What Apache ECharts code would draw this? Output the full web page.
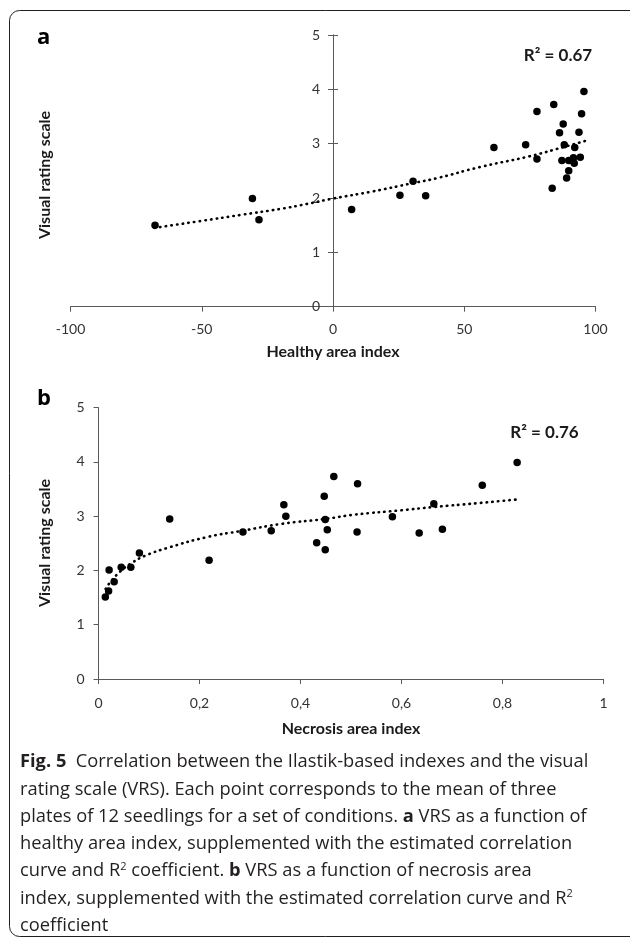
<!DOCTYPE html>
<html><head><meta charset="utf-8">
<script src="https://cdn.jsdelivr.net/npm/echarts@6/dist/echarts.min.js"></script>
<style>html,body{margin:0;padding:0;background:#fff}#c{width:630px;height:940px}</style>
</head><body><div id="c"></div>
<script>
// Panel a: healthy area index vs visual rating scale
const healthyX = [95.6, 84.1, 77.7, 94.7, 87.7, 86.3, 93.7, 61.3, 73.4, 88.1, 92.1, 77.7, 87.2, 89.8, 91.6, 94.2, 91.9, 89.8, 89.0, 83.5, 30.5, 25.5, 35.3, 7.1, -67.8, -30.7, -28.2];
const healthyY = [3.96, 3.72, 3.59, 3.55, 3.36, 3.20, 3.21, 2.93, 2.98, 2.98, 2.93, 2.72, 2.69, 2.69, 2.74, 2.75, 2.64, 2.50, 2.37, 2.18, 2.31, 2.05, 2.04, 1.79, 1.50, 1.99, 1.60];
const trendAX = [-68, -50, -35, -20, -10, 0, 15, 30, 40, 56, 75, 88, 96];
const trendAY = [1.45, 1.58, 1.69, 1.80, 1.89, 1.99, 2.12, 2.27, 2.37, 2.57, 2.77, 2.94, 3.05];
// Panel b: necrosis area index vs visual rating scale
const necrosisX = [0.0135, 0.020, 0.021, 0.031, 0.045, 0.064, 0.081, 0.141, 0.219, 0.286, 0.342, 0.367, 0.371, 0.432, 0.447, 0.449, 0.453, 0.449, 0.466, 0.513, 0.512, 0.582, 0.635, 0.664, 0.681, 0.760, 0.829];
const necrosisY = [1.51, 1.62, 2.01, 1.79, 2.06, 2.06, 2.32, 2.95, 2.19, 2.71, 2.73, 3.21, 3.00, 2.51, 3.37, 2.94, 2.75, 2.38, 3.73, 3.60, 2.71, 2.99, 2.69, 3.23, 2.76, 3.57, 3.99];
const trendBX = [0.014, 0.023, 0.043, 0.066, 0.092, 0.138, 0.217, 0.284, 0.363, 0.449, 0.508, 0.6, 0.664, 0.75, 0.83];
const trendBY = [1.66, 1.78, 1.98, 2.14, 2.27, 2.42, 2.62, 2.73, 2.86, 2.95, 3.03, 3.11, 3.17, 3.24, 3.31];
// Axis ranges / labels
const yRange = [0, 5, 1];
const xRangeA = [-100, 100, 50];
const xRangeB = [0, 1, 0.2];
const panelLabels = ['a', 'b'];
const r2Labels = ['R² = 0.67', 'R² = 0.76'];
const xTitles = ['Healthy area index', 'Necrosis area index'];
const yTitle = 'Visual rating scale';
const captionLines = [
  '{b|Fig. 5}  Correlation between the Ilastik-based indexes and the visual',
  'rating scale (VRS). Each point corresponds to the mean of three',
  'plates of 12 seedlings for a set of conditions. {b|a} VRS as a function of',
  'healthy area index, supplemented with the estimated correlation',
  'curve and R{s|2} coefficient. {b|b} VRS as a function of necrosis area',
  'index, supplemented with the estimated correlation curve and R{s|2}',
  'coefficient'
];

const zip = (a, b) => a.map((v, i) => [v, b[i]]);
const chart = echarts.init(document.getElementById('c'), null, {renderer: 'canvas'});
const AX = '#595959', TX = '#333333', FONT = 'Lato';
const lbl = {color: TX, fontFamily: FONT, fontSize: 14};
const nameStyle = {color: '#1a1a1a', fontFamily: FONT, fontSize: 16, fontWeight: 'bold'};
const dotted = {color: '#000', width: 2.6, type: [0.5, 5.2], cap: 'round'};
const CF = 18.3;
const gridA = {left: 70.5, top: 35, width: 525, height: 271.7};
// place panel a's vertical axis where x = 0 on the horizontal axis
const zeroFrac = (0 - xRangeA[0]) / (xRangeA[1] - xRangeA[0]);
const yAxisShiftL = -gridA.width * zeroFrac;
const yAxisShiftR = -gridA.width * (1 - zeroFrac);

const captionGraphics = captionLines.map((t, i) => ({
  type: 'text', x: 20, y: 762 + i * 27.3, silent: true,
  style: {
    text: t, fill: '#231f20', font: CF + 'px "Open Sans"', verticalAlign: 'middle',
    rich: {
      b: {fontWeight: 'bold', fontFamily: 'Open Sans', fontSize: CF, fill: '#231f20'},
      s: {fontFamily: 'Open Sans', fontSize: 11, fill: '#231f20', padding: [0, 0, 9, 0]}
    }
  }
}));

const yBase = {type: 'value', min: yRange[0], max: yRange[1], interval: yRange[2], splitLine: {show: false}};

chart.setOption({
  animation: false,
  grid: [
    gridA,
    {left: 98.5, top: 407.7, width: 505, height: 271.3}
  ],
  xAxis: [
    {gridIndex: 0, type: 'value', min: xRangeA[0], max: xRangeA[1], interval: xRangeA[2],
     splitLine: {show: false}, axisLine: {onZero: false, lineStyle: {color: AX}},
     axisTick: {show: true, length: 5, lineStyle: {color: AX}},
     axisLabel: {...lbl, margin: 16},
     name: xTitles[0], nameLocation: 'middle', nameGap: 37, nameTextStyle: nameStyle},
    {gridIndex: 1, type: 'value', min: xRangeB[0], max: xRangeB[1], interval: xRangeB[2],
     splitLine: {show: false}, axisLine: {onZero: false, lineStyle: {color: AX}},
     axisTick: {show: true, length: 5, lineStyle: {color: AX}},
     axisLabel: {...lbl, margin: 17, formatter: v => String(+v.toFixed(1)).replace('.', ',')},
     name: xTitles[1], nameLocation: 'middle', nameGap: 42, nameTextStyle: nameStyle}
  ],
  yAxis: [
    {...yBase, gridIndex: 0, position: 'left', offset: yAxisShiftL,
     axisLine: {show: true, onZero: false, lineStyle: {color: AX}},
     axisTick: {show: true, length: 5, lineStyle: {color: AX}},
     axisLabel: {...lbl, margin: 13}},
    {...yBase, gridIndex: 0, position: 'right', offset: yAxisShiftR,
     axisLine: {show: true, onZero: false, lineStyle: {color: AX}},
     axisTick: {show: true, length: 5, lineStyle: {color: AX}},
     axisLabel: {show: false}},
    {...yBase, gridIndex: 1,
     axisLine: {show: true, onZero: false, lineStyle: {color: AX}},
     axisTick: {show: true, length: 5, lineStyle: {color: AX}},
     axisLabel: {...lbl, margin: 14}}
  ],
  series: [
    {type: 'line', xAxisIndex: 0, yAxisIndex: 0, data: zip(trendAX, trendAY), smooth: true,
     showSymbol: false, lineStyle: dotted, silent: true, z: 2},
    {type: 'scatter', xAxisIndex: 0, yAxisIndex: 0, data: zip(healthyX, healthyY),
     symbolSize: 7.5, itemStyle: {color: '#000', opacity: 1}, z: 3},
    {type: 'line', xAxisIndex: 1, yAxisIndex: 2, data: zip(trendBX, trendBY), smooth: true,
     showSymbol: false, lineStyle: dotted, silent: true, z: 2},
    {type: 'scatter', xAxisIndex: 1, yAxisIndex: 2, data: zip(necrosisX, necrosisY),
     symbolSize: 7.5, itemStyle: {color: '#000', opacity: 1}, z: 3}
  ],
  graphic: [
    {type: 'rect', silent: true, shape: {x: 9.5, y: 10.5, width: 640, height: 926, r: 10},
     style: {fill: 'none', stroke: '#231f20', lineWidth: 1}},
    {type: 'text', left: 37, top: 27, style: {text: panelLabels[0], font: 'bold 22px "Open Sans"', fill: '#000'}},
    {type: 'text', left: 37, top: 388, style: {text: panelLabels[1], font: 'bold 22px "Open Sans"', fill: '#000'}},
    {type: 'text', x: 558, y: 56, style: {text: r2Labels[0], font: 'bold 17px Lato', fill: '#1a1a1a', align: 'center', verticalAlign: 'middle'}},
    {type: 'text', x: 544.5, y: 432.5, style: {text: r2Labels[1], font: 'bold 17px Lato', fill: '#1a1a1a', align: 'center', verticalAlign: 'middle'}},
    {type: 'text', x: 45, y: 175, rotation: Math.PI / 2, style: {text: yTitle, font: 'bold 16px Lato', fill: '#1a1a1a', align: 'center', verticalAlign: 'middle'}},
    {type: 'text', x: 45, y: 543, rotation: Math.PI / 2, style: {text: yTitle, font: 'bold 16px Lato', fill: '#1a1a1a', align: 'center', verticalAlign: 'middle'}},
    ...captionGraphics
  ]
});
</script>
</body></html>
